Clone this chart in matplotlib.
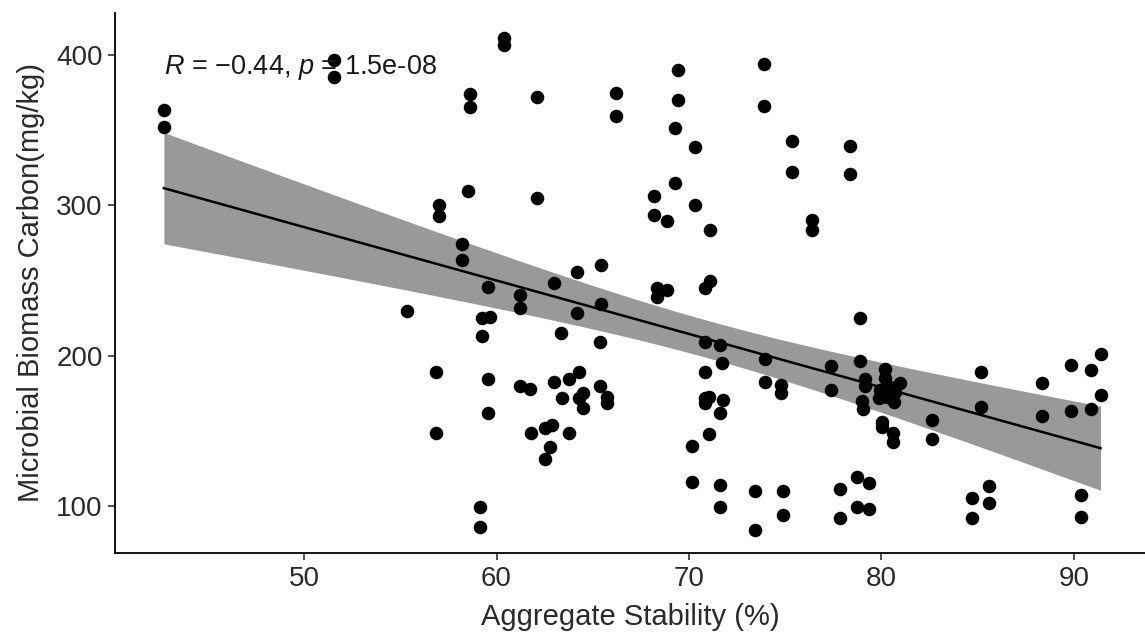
import numpy as np
import matplotlib
matplotlib.use("Agg")
import matplotlib.pyplot as plt

# Aggregate stability (%) and microbial biomass carbon (mg/kg)
agg_stability = [
    42.71, 42.71, 51.54, 51.54, 57.0, 57.0, 60.37, 60.37, 58.6, 58.6,
    62.1, 66.22, 66.22, 69.43, 69.43, 69.26, 70.33, 73.89, 73.89, 58.51,
    62.1, 69.26, 68.17, 68.17, 68.86, 70.33, 71.1, 58.2, 58.2, 59.58,
    61.23, 61.23, 63.0, 64.18, 65.44, 64.18, 65.44, 59.24, 59.64, 59.24,
    63.36, 65.36, 68.34, 68.86, 68.34, 71.11, 70.81, 70.81, 71.63, 71.72,
    70.81, 59.58, 59.58, 55.36, 56.83, 56.83, 61.23, 61.75, 63.0, 63.74,
    64.26, 63.4, 64.26, 64.49, 64.49, 65.36, 65.74, 65.74, 61.79, 62.53,
    62.88, 63.74, 62.79, 62.5, 59.12, 59.12, 73.95, 73.95, 74.8, 74.8,
    70.81, 71.02, 71.77, 70.81, 71.63, 71.02, 70.16, 70.16, 71.63, 71.63,
    73.45, 73.45, 74.9, 74.9, 78.91, 77.37, 77.37, 78.91, 79.17, 79.17,
    79.0, 79.02, 80.21, 80.21, 80.99, 79.95, 80.47, 80.73, 79.86, 80.29,
    80.64, 80.04, 80.04, 80.61, 80.61, 82.63, 82.63, 85.18, 85.18, 88.36,
    88.36, 89.88, 89.88, 90.87, 90.87, 91.39, 91.39, 78.73, 79.34, 77.87,
    78.73, 79.34, 77.87, 84.72, 85.59, 85.59, 84.72, 90.39, 90.39, 75.33,
    75.33, 78.36, 78.36, 76.4, 76.4,
]
mbc = [
    363.5, 352.4, 396.7, 385.6, 300.3, 292.9, 411.2, 406.7, 373.9, 365.3,
    372.3, 375.0, 359.5, 390.1, 370.1, 351.3, 339.1, 393.9, 366.1, 309.8,
    304.7, 314.7, 306.3, 293.3, 289.8, 300.3, 283.6, 274.4, 263.7, 245.9,
    240.4, 231.5, 248.4, 255.5, 260.3, 228.2, 234.4, 224.9, 226.0, 213.1,
    215.3, 209.3, 244.8, 243.7, 239.3, 250.0, 244.8, 208.8, 206.8, 195.1,
    189.4, 184.5, 162.1, 229.9, 189.4, 148.8, 179.8, 177.6, 182.3, 184.5,
    189.4, 171.7, 171.7, 175.0, 165.4, 179.8, 172.3, 168.7, 148.8, 151.7,
    153.9, 148.8, 139.5, 131.1, 99.1, 86.2, 197.9, 182.3, 180.2, 175.0,
    171.7, 172.7, 170.5, 168.7, 161.7, 147.9, 139.9, 116.2, 114.0, 99.6,
    110.2, 84.0, 110.1, 93.7, 224.9, 192.9, 177.4, 196.3, 184.5, 179.6,
    169.8, 164.3, 190.9, 185.0, 181.6, 177.2, 179.4, 176.1, 171.7, 172.7,
    169.4, 156.1, 152.8, 148.4, 142.8, 157.2, 144.4, 189.4, 166.1, 182.0,
    159.9, 193.8, 163.2, 190.5, 164.3, 201.1, 173.9, 119.5, 115.1, 111.1,
    99.6, 97.8, 91.8, 105.1, 113.3, 101.8, 92.2, 107.3, 92.9, 342.9,
    322.5, 339.5, 320.7, 290.3, 283.6,
]
x_ticks = [50, 60, 70, 80, 90]
y_ticks = [100, 200, 300, 400]
annotation = r"$\it{R}$ = −0.44, $\it{p}$ = 1.5e-08"

x = np.array(agg_stability)
y = np.array(mbc)

# OLS fit with 95% confidence band
n = len(x)
slope, intercept = np.polyfit(x, y, 1)
xs = np.linspace(x.min(), x.max(), 80)
ys = intercept + slope * xs
resid = y - (intercept + slope * x)
s = np.sqrt(np.sum(resid ** 2) / (n - 2))
sxx = np.sum((x - x.mean()) ** 2)
se = s * np.sqrt(1.0 / n + (xs - x.mean()) ** 2 / sxx)
tval = 1.977
lo, hi = ys - tval * se, ys + tval * se

plt.rcParams['font.family'] = ['Liberation Sans', 'DejaVu Sans']
plt.rcParams['mathtext.fontset'] = 'custom'
plt.rcParams['mathtext.rm'] = 'Liberation Sans'
plt.rcParams['mathtext.it'] = 'Liberation Sans:italic'

fig = plt.figure(figsize=(11.45, 6.34), dpi=100)
ax = fig.add_axes([115 / 1145, 81 / 634, 1 - 115 / 1145, 540 / 634])

ax.fill_between(xs, lo, hi, color='#999999', linewidth=0, zorder=1)
ax.plot(xs, ys, color='black', linewidth=1.8, zorder=2)
ax.scatter(x, y, s=95, color='black', linewidths=0, zorder=3)

ax.set_xlim(40.17, 93.7)
ax.set_ylim(68.7, 428)
ax.set_xticks(x_ticks)
ax.set_yticks(y_ticks)
for side in ('top', 'right'):
    ax.spines[side].set_visible(False)
for side in ('left', 'bottom'):
    ax.spines[side].set_linewidth(1.3)
    ax.spines[side].set_color('black')
ax.tick_params(axis='both', direction='out', length=5, width=1.2,
               color='#333333', labelsize=20, labelcolor='#2a2a2a', pad=4)
ax.set_xlabel('Aggregate Stability (%)', fontsize=21, color='#2a2a2a', labelpad=8)
ax.set_ylabel('Microbial Biomass Carbon(mg/kg)', fontsize=21, color='#2a2a2a', labelpad=8)

ax.text(42.71, 392, annotation, fontsize=19.5, ha='left', va='center', color='#1a1a1a',
        zorder=4)

fig.savefig('out.png', dpi=100)
